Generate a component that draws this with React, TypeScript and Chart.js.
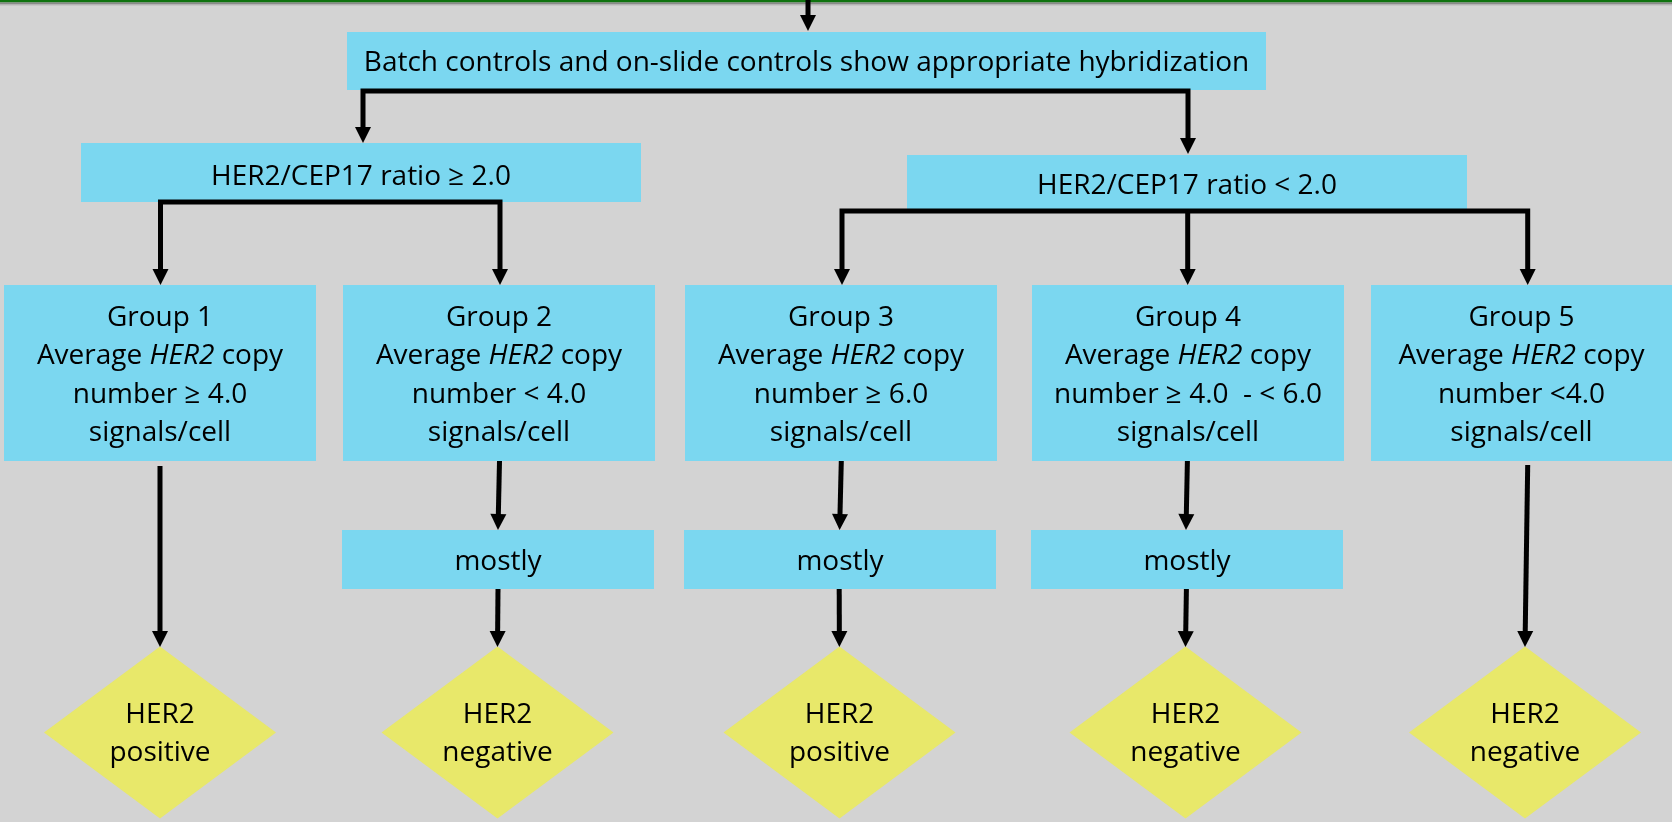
import React, { useEffect, useRef } from "react";
import { Chart, registerables } from "chart.js";

Chart.register(...registerables);

const W = 1672;
const H = 822;

// ---------- content ----------
const mainLabel: string[] = ["Batch controls and on-slide controls show appropriate hybridization"];
const ratioLabels: string[][] = [["HER2/CEP17 ratio ≥ 2.0"], ["HER2/CEP17 ratio < 2.0"]];
const groupLabels: string[][] = [
  ["Group 1", "Average *HER2* copy", "number ≥ 4.0", "signals/cell"],
  ["Group 2", "Average *HER2* copy", "number < 4.0", "signals/cell"],
  ["Group 3", "Average *HER2* copy", "number ≥ 6.0", "signals/cell"],
  ["Group 4", "Average *HER2* copy", "number ≥ 4.0  - < 6.0", "signals/cell"],
  ["Group 5", "Average *HER2* copy", "number <4.0", "signals/cell"],
];
const mostlyLabels: string[] = ["mostly", "mostly", "mostly"];
const resultLabels: string[][] = [
  ["HER2", "positive"],
  ["HER2", "negative"],
  ["HER2", "positive"],
  ["HER2", "negative"],
  ["HER2", "negative"],
];

// ---------- layout (axis units) ----------
const mainBox = [347, 1266, 32, 90];
const ratioBoxes = [
  [81, 641, 143, 202],
  [907, 1467, 155, 209],
];
const groupX0 = [4, 343, 685, 1032, 1371];
const groupX1 = [316, 655, 997, 1344, 1672];
const groupY = [285, 461];
const mostlyX0 = [342, 684, 1031];
const mostlyX1 = [654, 996, 1343];
const mostlyY = [530, 589];
const diamondCx = [160, 497.5, 839.5, 1185.5, 1525];
const diamondCy = 732.5;
const diamondHalfW = 116;
const diamondHalfH = 86;

// connectors: polylines ending with an arrowhead
const connectors: number[][][] = [
  [[808, 0], [808, 31]],
  [[807, 91], [363, 91], [363, 143]],
  [[807, 91], [1188, 91], [1188, 154]],
  [[361, 202], [160.5, 202], [160.5, 285]],
  [[361, 202], [500, 202], [500, 285]],
  [[1187, 211], [842, 211], [842, 285]],
  [[1187.7, 211], [1187.7, 285]],
  [[1187, 211], [1527.7, 211], [1527.7, 285]],
  [[160, 466], [160, 647]],
  [[499.5, 461], [498, 530]],
  [[498, 589], [497.5, 647]],
  [[841.3, 461], [839.6, 530]],
  [[839.2, 589], [839.4, 647]],
  [[1187.4, 461], [1186, 530]],
  [[1186.4, 589], [1185.5, 647]],
  [[1527.7, 465], [1525, 647]],
];

// ---------- styles ----------
const BG = "#d3d3d3";
const BLUE = "#7bd7f0";
const YELLOW = "#e8e86a";
const INK = "#000000";
const FONT_FAMILY = "'Open Sans', Lato, sans-serif";
const FONT_SIZE = 28;
const LINE_W = 5;
const HEAD_W = 16;
const HEAD_L = 16;

function drawRich(ctx: CanvasRenderingContext2D, text: string, cx: number, cy: number, size: number) {
  const parts = text.split("*");
  const segs = parts.map((t, i) => ({ t, italic: i % 2 === 1 })).filter((s) => s.t.length > 0);
  let total = 0;
  const widths: number[] = [];
  for (const s of segs) {
    ctx.font = `${s.italic ? "italic " : ""}${size}px ${FONT_FAMILY}`;
    const w = ctx.measureText(s.t).width;
    widths.push(w);
    total += w;
  }
  let x = cx - total / 2;
  const baseline = cy + size * 0.357;
  ctx.textAlign = "left";
  ctx.textBaseline = "alphabetic";
  ctx.fillStyle = INK;
  segs.forEach((s, i) => {
    ctx.font = `${s.italic ? "italic " : ""}${size}px ${FONT_FAMILY}`;
    ctx.fillText(s.t, x, baseline);
    x += widths[i];
  });
}

const flowPlugin = {
  id: "flow",
  beforeDraw(chart: any) {
    const ctx: CanvasRenderingContext2D = chart.ctx;
    const xs = chart.scales.x;
    const ys = chart.scales.y;
    const px = (v: number) => xs.getPixelForValue(v);
    const py = (v: number) => ys.getPixelForValue(v);

    ctx.save();
    // background
    ctx.fillStyle = BG;
    ctx.fillRect(px(0), py(0), px(W) - px(0), py(H) - py(0));
    // top band
    ctx.fillStyle = "#0f730f";
    ctx.fillRect(px(0), py(0), px(W) - px(0), py(2.5) - py(0));
    ctx.fillStyle = "#8a8a8a";
    ctx.fillRect(px(0), py(2.5), px(W) - px(0), py(4.5) - py(2.5));
    ctx.fillStyle = "#b8b8b8";
    ctx.fillRect(px(0), py(4.5), px(W) - px(0), py(5.5) - py(4.5));

    const box = (b: number[], lines: string[], spacing: number, cyOff = 0) => {
      const x0 = px(b[0]), x1 = px(b[1]), y0 = py(b[2]), y1 = py(b[3]);
      ctx.fillStyle = BLUE;
      ctx.fillRect(x0, y0, x1 - x0, y1 - y0);
      const cx = (x0 + x1) / 2;
      const cy = (y0 + y1) / 2 + cyOff;
      lines.forEach((l, i) => {
        drawRich(ctx, l, cx, cy + (i - (lines.length - 1) / 2) * spacing, FONT_SIZE);
      });
    };

    box(mainBox, mainLabel, 38.3);
    ratioBoxes.forEach((b, i) => box(b, ratioLabels[i], 38.3, 2.5));
    groupLabels.forEach((lines, i) =>
      box([groupX0[i], groupX1[i], groupY[0], groupY[1]], lines, 38.3, 0.5)
    );
    mostlyLabels.forEach((l, i) => box([mostlyX0[i], mostlyX1[i], mostlyY[0], mostlyY[1]], [l], 38.3, 1));

    // diamonds
    diamondCx.forEach((cxv, i) => {
      const cx = px(cxv);
      const cy = py(diamondCy);
      const hw = px(cxv + diamondHalfW) - cx;
      const hh = py(diamondCy + diamondHalfH) - cy;
      ctx.fillStyle = YELLOW;
      ctx.beginPath();
      ctx.moveTo(cx, cy - hh);
      ctx.lineTo(cx + hw, cy);
      ctx.lineTo(cx, cy + hh);
      ctx.lineTo(cx - hw, cy);
      ctx.closePath();
      ctx.fill();
      const lines = resultLabels[i];
      lines.forEach((l, k) => {
        drawRich(ctx, l, cx, cy + (k - (lines.length - 1) / 2) * 38, FONT_SIZE);
      });
    });

    // connectors
    ctx.strokeStyle = INK;
    ctx.fillStyle = INK;
    ctx.lineWidth = LINE_W;
    ctx.lineJoin = "miter";
    ctx.lineCap = "butt";
    connectors.forEach((pts) => {
      const p = pts.map(([a, b]) => [px(a), py(b)]);
      const n = p.length;
      const [tx, ty] = p[n - 1];
      const [sx, sy] = p[n - 2];
      const len = Math.hypot(tx - sx, ty - sy) || 1;
      const dx = (tx - sx) / len;
      const dy = (ty - sy) / len;
      const bx = tx - dx * HEAD_L;
      const by = ty - dy * HEAD_L;
      ctx.beginPath();
      ctx.moveTo(p[0][0], p[0][1]);
      for (let k = 1; k < n - 1; k++) ctx.lineTo(p[k][0], p[k][1]);
      ctx.lineTo(bx + dx * 1, by + dy * 1);
      ctx.stroke();
      ctx.beginPath();
      ctx.moveTo(tx, ty);
      ctx.lineTo(bx - dy * HEAD_W / 2, by + dx * HEAD_W / 2);
      ctx.lineTo(bx + dy * HEAD_W / 2, by - dx * HEAD_W / 2);
      ctx.closePath();
      ctx.fill();
    });
    ctx.restore();
  },
};

export default function App() {
  const ref = useRef<HTMLCanvasElement | null>(null);
  useEffect(() => {
    if (!ref.current) return;
    const chart = new Chart(ref.current, {
      type: "scatter",
      data: { datasets: [{ data: [], pointRadius: 0 }] },
      options: {
        responsive: false,
        animation: false,
        events: [],
        layout: { padding: 0 },
        plugins: { legend: { display: false }, tooltip: { enabled: false } },
        scales: {
          x: { type: "linear", min: 0, max: W, display: false },
          y: { type: "linear", min: 0, max: H, reverse: true, display: false },
        },
      },
      plugins: [flowPlugin],
    });
    const fonts = (document as any).fonts;
    if (fonts && fonts.load) {
      Promise.all([
        fonts.load(`${FONT_SIZE}px 'Open Sans'`),
        fonts.load(`italic ${FONT_SIZE}px 'Open Sans'`),
      ]).then(() => chart.draw()).catch(() => {});
    }
    return () => chart.destroy();
  }, []);
  return (
    <div style={{ position: "fixed", left: 0, top: 0, width: W, height: H, background: BG }}>
      <canvas ref={ref} width={W} height={H} style={{ display: "block", width: W, height: H }} />
    </div>
  );
}
